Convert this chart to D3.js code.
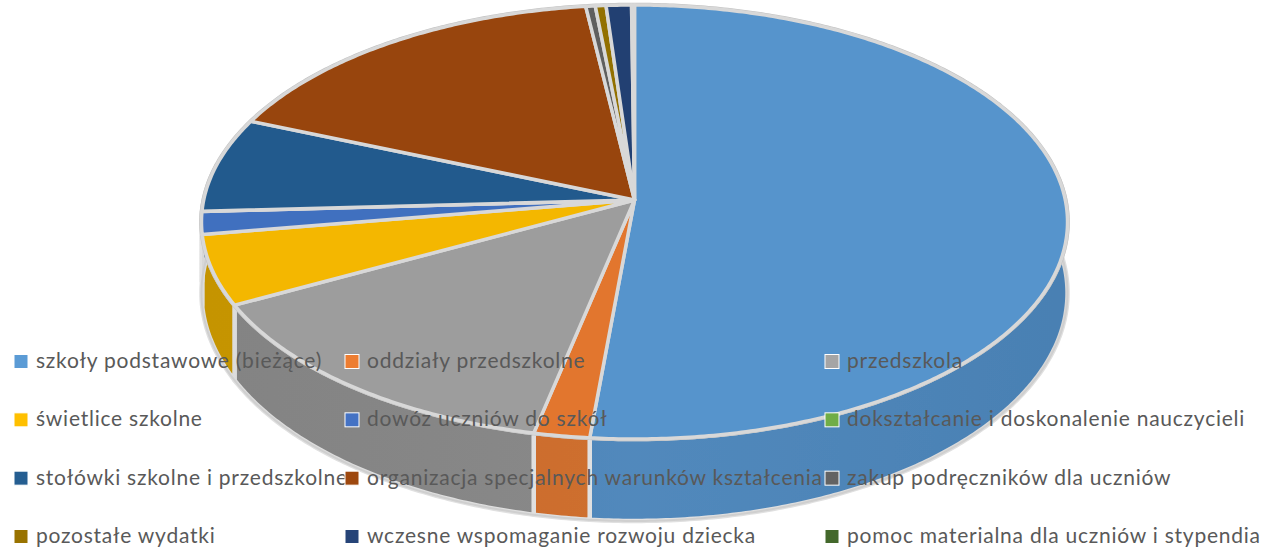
<!DOCTYPE html>
<html>
<head>
<meta charset="utf-8">
<script src="https://cdnjs.cloudflare.com/ajax/libs/d3/7.8.5/d3.min.js"></script>
<style>
  html, body { margin: 0; padding: 0; background: #fff; }
  svg { display: block; }
  .legend text { font-family: Lato, "Open Sans", sans-serif; font-size: 21px; fill: #595959; letter-spacing: 0.76px; }
</style>
</head>
<body>
<div id="chart"></div>
<script>
var categories = ["szkoły podstawowe (bieżące)", "oddziały przedszkolne", "przedszkola",
    "świetlice szkolne", "dowóz uczniów do szkół", "dokształcanie i doskonalenie nauczycieli",
    "stołówki szkolne i przedszkolne", "organizacja specjalnych warunków kształcenia", "zakup podręczników dla uczniów",
    "pozostałe wydatki", "wczesne wspomaganie rozwoju dziecka", "pomoc materialna dla uczniów i stypendia"];
// shares in percent
var shares = [51.5, 1.89, 13.9, 5.2, 1.67, 0.02, 7.05, 16.8, 0.39, 0.44, 1.04, 0.12];
var legendColors = ["#5B9BD5", "#ED7D31", "#A5A5A5", "#FFC000", "#4472C4", "#70AD47",
    "#255E91", "#9E480E", "#636363", "#997300", "#264478", "#43682B"];
var topColors = ["#5694CC", "#E2762E", "#9D9D9D", "#F4B700", "#4170BF", "#6BA443",
    "#235A8D", "#98440B", "#5F5F5F", "#927000", "#234172", "#406329"];
var wallColors = ["#4C85BA", "#CD6B29", "#868686", "#C99700", "#385FA6", "#5B8F3A",
    "#1F4F7C", "#813A09", "#525252", "#7F6000", "#1F3862", "#365424"];

var width = 1274, height = 549;

var svg = d3.select("#chart").append("svg")
    .attr("width", width)
    .attr("height", height);

var pie = d3.pie().sort(null).value(function(d) { return d; });
var arcs = pie(shares);

var color = d3.scaleOrdinal().domain(categories).range(topColors);
var wallColor = d3.scaleOrdinal().domain(categories).range(wallColors);

// perspective disc: k pulls the front edge toward the viewer
var k = 0.1014, R = 430.8, cx = 634.5;
var topPlane = { y: 200, a: 214.8 };
var lowPlane = { y: 269.8, a: 225.7 };

function project(theta, plane) {
    var u = Math.sin(theta), v = -Math.cos(theta), w = 1 - k * v;
    return [cx + R * u / w, plane.y + plane.a * v / w];
}
function sweep(a0, a1) {
    var n = Math.max(2, Math.ceil((a1 - a0) / 0.01));
    return d3.range(n + 1).map(function(i) { return a0 + (a1 - a0) * i / n; });
}
var line = d3.line();

// walls only where the rim faces us
var wallFrom = Math.acos(0.1), wallTo = 2 * Math.PI - Math.acos(0.165);

var defs = svg.append("defs");
var shade = defs.append("linearGradient").attr("id", "shade")
    .attr("gradientUnits", "userSpaceOnUse")
    .attr("x1", 201).attr("x2", 1068).attr("y1", 0).attr("y2", 0);
shade.append("stop").attr("offset", 0).attr("stop-color", "#000").attr("stop-opacity", 0.02);
shade.append("stop").attr("offset", 0.5).attr("stop-color", "#fff").attr("stop-opacity", 0.03);
shade.append("stop").attr("offset", 1).attr("stop-color", "#000").attr("stop-opacity", 0.04);

// the source picture is a soft, slightly scaled screenshot
var soft = defs.append("filter").attr("id", "soft");
soft.append("feGaussianBlur").attr("stdDeviation", 0.45);

var chart = svg.append("g").attr("filter", "url(#soft)");

function wallPoints(d) {
    var a0 = Math.max(d.startAngle, wallFrom), a1 = Math.min(d.endAngle, wallTo);
    if (a1 <= a0) return null;
    var ts = sweep(a0, a1);
    return ts.map(function(t) { return project(t, topPlane); })
        .concat(ts.slice().reverse().map(function(t) { return project(t, lowPlane); }));
}

var walls = arcs.filter(function(d) { return wallPoints(d) != null; });

chart.selectAll("path.wall")
    .data(walls)
    .enter()
    .append("path")
    .attr("class", "wall")
    .attr("d", function(d) { return line(wallPoints(d)) + "Z"; })
    .attr("fill", function(d) { return wallColor(categories[d.index]); })
    .attr("stroke", "#e0e0e0")
    .attr("stroke-width", 4.5)
    .attr("stroke-linejoin", "round");

chart.selectAll("path.wallshade")
    .data(walls)
    .enter()
    .append("path")
    .attr("class", "wallshade")
    .attr("d", function(d) { return line(wallPoints(d)) + "Z"; })
    .attr("fill", "url(#shade)");

// lower rim
chart.append("path")
    .attr("d", line(sweep(wallFrom, wallTo).map(function(t) { return project(t, lowPlane); })))
    .attr("fill", "none")
    .attr("stroke", "#cfcfcf")
    .attr("stroke-width", 2);
chart.append("path")
    .attr("d", line(sweep(0, 2 * Math.PI).map(function(t) { return project(t, topPlane); })) + "Z")
    .attr("fill", "none")
    .attr("stroke", "#c2c2c2")
    .attr("stroke-width", 4.5);

chart.selectAll("path.slice")
    .data(arcs)
    .enter()
    .append("path")
    .attr("class", "slice")
    .attr("d", function(d) {
        var pts = sweep(d.startAngle, d.endAngle).map(function(t) { return project(t, topPlane); });
        return line([[cx, topPlane.y]].concat(pts)) + "Z";
    })
    .attr("fill", function(d) { return color(categories[d.index]); })
    .attr("stroke", "#d8d8d8")
    .attr("stroke-width", 3.5)
    .attr("stroke-linejoin", "round");

// legend: three columns, four rows
var colX = d3.scaleOrdinal().domain([0, 1, 2]).range([14, 345, 825]);
var rowY = d3.scalePoint().domain([0, 1, 2, 3]).range([361.5, 536.5]);

var legend = svg.append("g").attr("class", "legend");
var items = legend.selectAll("g")
    .data(categories)
    .enter()
    .append("g")
    .attr("transform", function(d, i) { return "translate(" + colX(i % 3) + "," + rowY(Math.floor(i / 3)) + ")"; });

items.append("rect")
    .attr("x", 0)
    .attr("y", -7)
    .attr("width", 14)
    .attr("height", 14)
    .attr("fill", function(d, i) { return legendColors[i]; })
    .attr("stroke", "#fff")
    .attr("stroke-width", 1);

items.append("text")
    .attr("x", 22)
    .attr("y", 6.5)
    .text(function(d) { return d; });
</script>
</body>
</html>
